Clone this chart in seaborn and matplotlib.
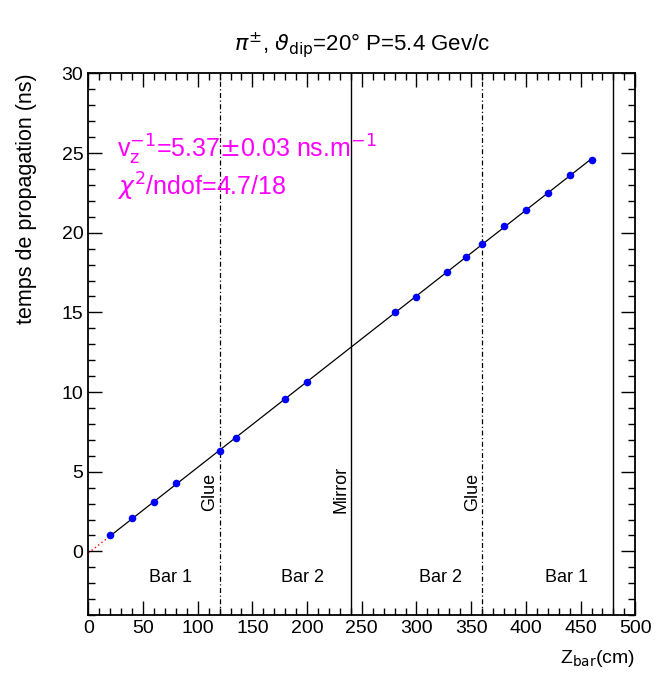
import numpy as np
import pandas as pd
import matplotlib
matplotlib.use("Agg")
import matplotlib.pyplot as plt
import seaborn as sns
from matplotlib.ticker import MultipleLocator

# measured points: position along bar (cm) vs propagation time (ns)
z_bar = [20, 40, 60, 80, 120, 135, 180, 200, 280, 300, 328, 345,
         360, 380, 400, 420, 440, 460]
t_prop = [1.05, 2.07, 3.09, 4.27, 6.28, 7.09, 9.54, 10.63, 15.0, 15.96,
          17.51, 18.47, 19.32, 20.40, 21.45, 22.49, 23.60, 24.56]

glue_z = [120, 360]
mirror_z = [240]
bar_end_z = [480]
bar_names = ["Bar 1", "Bar 2", "Bar 2", "Bar 1"]
bar_name_z = [75, 196, 322, 437]

sns.set_theme(style="ticks")
plt.rcParams["font.family"] = ["Liberation Sans", "DejaVu Sans"]
plt.rcParams["mathtext.fontset"] = "dejavusans"
plt.rcParams["xtick.direction"] = "in"
plt.rcParams["ytick.direction"] = "in"
for key in ["text.color", "axes.labelcolor", "xtick.color", "ytick.color",
            "axes.edgecolor"]:
    plt.rcParams[key] = "black"

df = pd.DataFrame({"z": z_bar, "t": t_prop})

# straight-line fit (solid over the data range, dotted red extrapolation to 0)
slope, icpt = np.polyfit(df["z"], df["t"], 1)
fit_in = pd.DataFrame({"z": [min(z_bar), max(z_bar)]})
fit_in["t"] = slope * fit_in["z"] + icpt
fit_ext = pd.DataFrame({"z": [0, min(z_bar)]})
fit_ext["t"] = slope * fit_ext["z"] + icpt

fig = plt.figure(figsize=(6.59, 6.79), dpi=100)
ax = fig.add_axes([0.134, 0.094, 0.830, 0.798])

sns.lineplot(data=fit_ext, x="z", y="t", ax=ax, color="red", lw=1,
             linestyle=(0, (1, 2)))
sns.lineplot(data=fit_in, x="z", y="t", ax=ax, color="black", lw=0.9)
sns.scatterplot(data=df, x="z", y="t", ax=ax, color="#0000ff", s=30,
                edgecolor="#0000ff", linewidth=0, zorder=5)

for z in glue_z:
    ax.axvline(z, color="black", lw=0.9, linestyle=(0, (4, 2, 1, 2)))
    ax.text(z - 1, 3.75, "Glue", rotation=90, ha="right", va="center",
            fontsize=13)
for z in mirror_z:
    ax.axvline(z, color="black", lw=1)
    ax.text(z - 1, 3.9, "Mirror", rotation=90, ha="right", va="center",
            fontsize=13)
for z in bar_end_z:
    ax.axvline(z, color="black", lw=1)
for name, z in zip(bar_names, bar_name_z):
    ax.text(z, -1.65, name, ha="center", va="center", fontsize=13)

ax.text(26, 25.2, r"v$_\mathrm{z}^{\mathrm{-1}}$=5.37$\pm$0.03 ns.m$^{\mathrm{-1}}$",
        color="#ff00ff", fontsize=18, va="center")
ax.text(26, 22.85, r"$\chi^{\mathrm{2}}$/ndof=4.7/18", color="#ff00ff",
        fontsize=18, va="center")

ax.set_xlim(0, 500)
ax.set_ylim(-4, 30)
ax.xaxis.set_major_locator(MultipleLocator(50))
ax.xaxis.set_minor_locator(MultipleLocator(10))
ax.yaxis.set_major_locator(MultipleLocator(5))
ax.yaxis.set_minor_locator(MultipleLocator(1))
ax.tick_params(which="both", top=True, right=True, labelsize=14, width=1)
ax.tick_params(which="major", length=10)
ax.tick_params(which="minor", length=5)
for sp in ax.spines.values():
    sp.set_linewidth(1.3)

ax.set_xlabel(r"Z$_{\mathrm{bar}}$(cm)", fontsize=14, loc="right",
              labelpad=8)
ax.set_ylabel("temps de propagation (ns)", fontsize=15.5, loc="top",
              labelpad=18)
ax.set_title(r"$\pi^{\pm}$, $\vartheta_{\mathrm{dip}}$=20° P=5.4 Gev/c",
             fontsize=16, pad=16)

fig.savefig("out.png", dpi=100)
